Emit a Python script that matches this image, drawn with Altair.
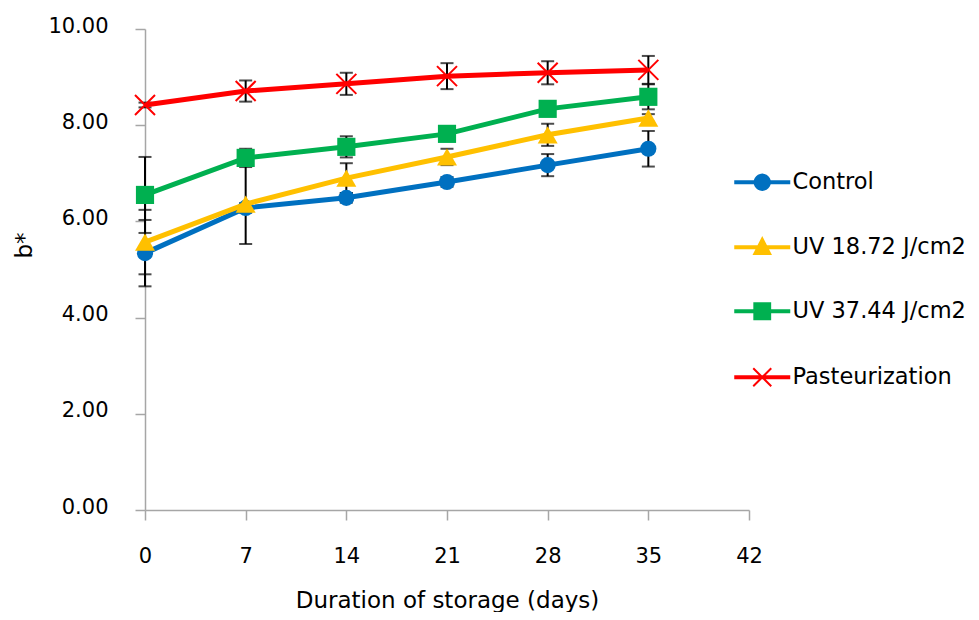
import math
import altair as alt
import pandas as pd

days = [0, 7, 14, 21, 28, 35]
series_names = ["Control", "UV 18.72 J/cm2", "UV 37.44 J/cm2", "Pasteurization"]
control = [5.34, 6.28, 6.49, 6.82, 7.17, 7.51]
control_sd = [0.69, 0.10, 0.10, 0.10, 0.23, 0.37]
uv1872 = [5.57, 6.36, 6.90, 7.34, 7.80, 8.15]
uv1872_sd = [0.67, 0.83, 0.31, 0.17, 0.23, 0.08]
uv3744 = [6.55, 7.32, 7.55, 7.82, 8.34, 8.59]
uv3744_sd = [0.79, 0.19, 0.22, 0.10, 0.10, 0.26]
past = [8.42, 8.71, 8.86, 9.02, 9.09, 9.15]
past_sd = [0.05, 0.22, 0.23, 0.27, 0.24, 0.29]
colors = ["#0070C0", "#FFC000", "#00B050", "#FF0000"]
x_ticks = [0, 7, 14, 21, 28, 35, 42]
y_ticks = [0, 2, 4, 6, 8, 10]

rows = []
for name, vals, sds in zip(series_names, [control, uv1872, uv3744, past],
                           [control_sd, uv1872_sd, uv3744_sd, past_sd]):
    for d, v, s in zip(days, vals, sds):
        rows.append({"day": d, "value": v, "sd": s, "series": name,
                     "lo": v - s, "hi": v + s})
df = pd.DataFrame(rows)

FONT = "DejaVu Sans"
xscale = alt.Scale(domain=[0, 42], nice=False)
yscale = alt.Scale(domain=[0, 10], nice=False)

x_enc = alt.X("day:Q", scale=xscale, axis=alt.Axis(
    values=x_ticks, title="Duration of storage (days)", grid=False, labelFlush=False,
    domainColor="#A6A6A6", domainWidth=1.5, tickColor="#A6A6A6", tickWidth=1.5,
    tickSize=10, labelPadding=25, labelFont=FONT, labelFontSize=21,
    labelColor="#000000",
    titleFont=FONT, titleFontSize=23, titleFontWeight="normal", titleColor="#000000",
    titleY=90, titleBaseline="middle"))
y_enc = alt.Y("value:Q", scale=yscale, axis=alt.Axis(
    values=y_ticks, format=".2f", title="b*", grid=False, labelFlush=False,
    domainColor="#A6A6A6", domainWidth=1.5, tickColor="#A6A6A6", tickWidth=1.5,
    tickSize=10, labelPadding=27, labelFont=FONT, labelFontSize=21,
    labelColor="#000000", labelBaseline="middle", labelOffset=-3,
    titleFont=FONT, titleFontSize=23, titleFontWeight="normal", titleColor="#000000",
    titleX=-121, titleY=216, titleAngle=-90, titleAlign="center", titleBaseline="middle"))

base = alt.Chart(df)

err_rule = base.mark_rule(color="#000000", strokeWidth=2).encode(
    x=x_enc, y=alt.Y("lo:Q", scale=yscale), y2="hi:Q")
cap_lo = base.mark_tick(color="#000000", orient="horizontal", size=13, thickness=2).encode(
    x=x_enc, y=alt.Y("lo:Q", scale=yscale))
cap_hi = base.mark_tick(color="#000000", orient="horizontal", size=13, thickness=2).encode(
    x=x_enc, y=alt.Y("hi:Q", scale=yscale))

xpath = "M-1,-1L1,1M-1,1L1,-1"
marker_specs = [
    dict(shape="circle", size=260, filled=True, strokeWidth=0),
    dict(shape="triangle-up", size=400, filled=True, strokeWidth=0),
    dict(shape="square", size=330, filled=True, strokeWidth=0),
    dict(shape=xpath, size=400, filled=False, strokeWidth=2),
]

layers = [err_rule, cap_lo, cap_hi]
for name, col, spec in zip(series_names, colors, marker_specs):
    sub = base.transform_filter(alt.datum.series == name)
    line = sub.mark_line(strokeWidth=5, color=col).encode(x=x_enc, y=y_enc)
    pt = sub.mark_point(opacity=1, color=col, **spec).encode(x=x_enc, y=y_enc)
    layers += [line, pt]


# legend glyphs: a short line segment with the series marker on it
# (markers are made solid with closely nested outlines, since the legend strokes them)
def poly(pts):
    return "M" + "L".join(f"{x:.3f},{y:.3f}" for x, y in pts) + "Z"


steps = [1.0, 0.84, 0.68, 0.52, 0.36, 0.2, 0.06]
rect = "M-3,-0.12L3,-0.12L3,0.12L-3,0.12Z"
circ = "".join(poly([(0.85 * f * math.cos(2 * math.pi * k / 24),
                      0.85 * f * math.sin(2 * math.pi * k / 24)) for k in range(24)])
               for f in steps)
tri_v = [(0.0, -1.0), (0.9, 0.75), (-0.9, 0.75)]
cy = sum(v[1] for v in tri_v) / 3
tri = "".join(poly([(f * vx, cy + f * (vy - cy)) for vx, vy in tri_v]) for f in steps)
sq = "".join(poly([(-0.88 * f, -0.88 * f), (0.88 * f, -0.88 * f),
                   (0.88 * f, 0.88 * f), (-0.88 * f, 0.88 * f)]) for f in steps)
legend_paths = [rect + circ, rect + tri, rect + sq, rect + "M-1,-1L1,1M-1,1L1,-1"]

leg = alt.Legend(orient="none", legendX=606, legendY=142, title=None,
                 labelFont=FONT, labelFontSize=22.5, labelColor="#000000",
                 symbolSize=324, symbolStrokeWidth=2, labelOffset=19,
                 rowPadding=40, padding=0, labelLimit=400)
legend_layer = base.mark_point(filled=False, strokeWidth=2, opacity=0).encode(
    x=x_enc, y=y_enc,
    stroke=alt.Stroke("series:N", scale=alt.Scale(domain=series_names, range=colors), legend=leg),
    shape=alt.Shape("series:N", scale=alt.Scale(domain=series_names, range=legend_paths), legend=leg),
)
layers.append(legend_layer)

chart = alt.layer(*layers).properties(
    width=604, height=481,
    padding={"left": 137, "top": 21, "right": 222, "bottom": 102},
    autosize=alt.AutoSizeParams(type="none"),
    background="white",
).configure_view(stroke=None)

chart.save("out.html", embed_options={"renderer": "svg", "actions": False})
